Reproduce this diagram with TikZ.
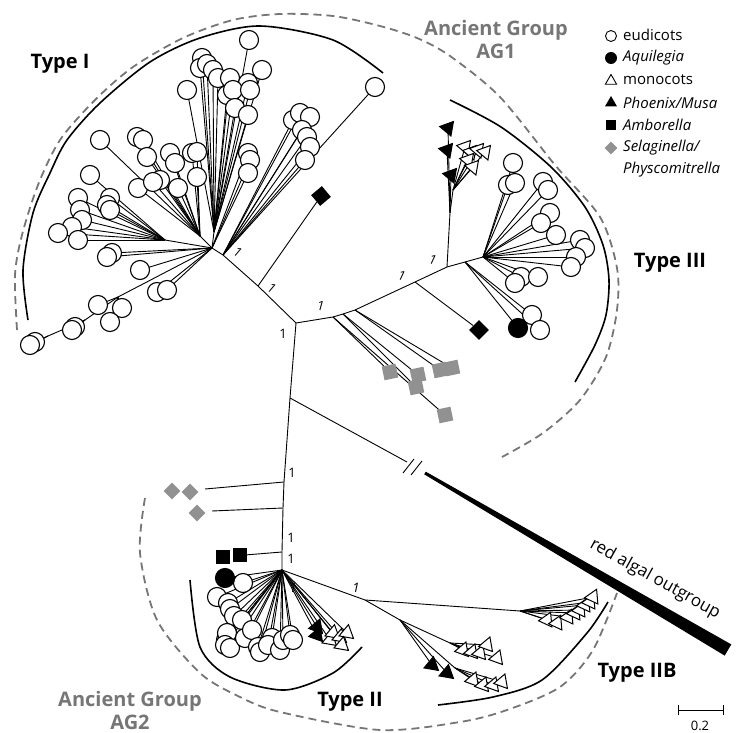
\documentclass[tikz,border=0pt]{standalone}
\usepackage{fontspec}
\setmainfont{Open Sans}
\usetikzlibrary{shapes.geometric}
\definecolor{grp}{RGB}{118,118,118}
\definecolor{selg}{RGB}{145,145,145}
\newcommand\mkedges[3]{\foreach \px/\py [count=\k] in #3 {\coordinate (#2-\k) at (\px,\py); \draw[br] (#1) -- (#2-\k);}}
\newcommand\mkleafs[3]{\foreach \px/\py [count=\k] in #3 {\node[#2] (#1-n\k) at (#1-\k) {};}}
% Type I
\def\LIa{202/58,200/68,207/64,213/70,218/78,249/40,187/90,230/78,262/70,248/83,227/95,233/90,250/90,235/108,248/115}
\def\LIb{100/140,137/137,143/140,147/157,170/153,175/163,192/153,197/152,197/177,160/180,178/188,138/188,153/182}
\def\LIc{90/175,78/198,80/210,82/220,72/227,58/233,78/240,110/198,107/205,110/210}
\def\LHa{248/153,250/160,248/173,112/253,107/257,140/270,157/292,167/290}
\def\LEa{122/308,98/305,110/322}
\def\LEb{75/327,72/330}
\def\LEc{35/342,30/345}
\def\LIf{293/120,300/113,310/117,302/130,307/137,310/147,305/160,375/87}
% Type III
\def\LT{513/163,508/185,515/183,543/182,548/190,550/213,541/223,556/235,580/240,585/248,576/257,571/267,521/277,515/283,538/277}
\def\LTb{532/315,540/330}
\def\LTa{518/328}
\def\LMf{448/128,447/150,451/175}
\def\LMo{465/147,471/152,478/150,485/152,468/160,473/167}
% Type II
\def\LTIIa{225/578}
\def\LTIIe{243/583,217/597,228/603,230/609,234/616,242/620,226/640,227/633,225/645,230/648,245/638,252/630,258/647,260/652,272/638,268/645,280/650,283/640,290/635,293/640}
\def\LMIIf{317/627,317/635}
\def\LMIIo{330/640,333/633,340/637,347/633,342/645}
\def\LIIBa{547/620,557/623,568/617,575/613,580/610,585/605,590/602,593/597}
\def\LIIBb{463/650,472/652,480/653,487/645,497/658}
\def\LIIBc{473/680,483/685,493/685,502/682}
\def\LIIBf{432/665,447/673}
\def\LSq{390/372,445/415}
\def\LSqb{418/375,416/387}
\def\LSqc{440/370,452/368}
\begin{document}
\begin{tikzpicture}[x=1pt,y=-1pt,
 br/.style={line width=0.9},
 eud/.style={circle,draw,fill=white,minimum size=19,inner sep=0,line width=1.1},
 aqu/.style={circle,draw,fill=black,minimum size=19,inner sep=0,line width=1.1},
 mono/.style={regular polygon,regular polygon sides=3,draw,fill=white,minimum size=17,inner sep=0,line width=1},
 phx/.style={regular polygon,regular polygon sides=3,draw,fill=black,minimum size=17,inner sep=0,line width=1},
 amb/.style={rectangle,fill=black,minimum size=14,inner sep=0},
 selsq/.style={rectangle,fill=selg,minimum size=14,inner sep=0,rotate=12},
 sel/.style={diamond,fill=selg,minimum size=17,inner sep=0},
 clade/.style={line width=1.6},
 ag/.style={dash pattern=on 8pt off 5pt, draw=grp, line width=1.8},
 bs/.style={font=\fontsize{13}{15}\selectfont, inner sep=1},
 typ/.style={font=\fontsize{20}{24}\selectfont\bfseries},
 agl/.style={font=\fontsize{20}{23}\selectfont\bfseries, text=grp, align=center},
 leg/.style={font=\fontsize{15}{18}\selectfont, anchor=west, inner sep=0},
]
\useasboundingbox (0,0) rectangle (737,733);
% group arcs
\draw[ag] plot[smooth] coordinates {(17,330) (15,275) (22,235) (38,185) (60,140) (95,100) (133,67) (183,38) (233,20) (280,14) (333,16) (380,26) (417,38) (450,56) (500,97) (555,165) (600,217) (617,268) (617,310) (606,357) (580,400) (543,433) (502,457)};
\draw[ag] plot[smooth] coordinates {(145,498) (140,553) (157,620) (200,673) (240,697) (280,712) (380,730) (460,722) (507,710) (560,687) (593,650) (617,593)};
\draw[clade] plot[smooth] coordinates {(28,320) (23,270) (33,213) (50,173) (67,140) (100,103) (150,62) (200,38) (260,26) (333,40) (383,73)};
\draw[clade] plot[smooth] coordinates {(450,100) (501,127) (551,167) (585,207) (603,245) (609,280) (606,315) (595,345) (575,382)};
\draw[clade] plot[smooth] coordinates {(190,580) (200,647) (230,677) (285,690) (333,673) (362,647)};
\draw[clade] plot[smooth] coordinates {(438,705) (493,697) (542,680) (587,633) (608,602)};
% backbone
\coordinate (A) at (296,323);
\coordinate (N3) at (258,286);
\coordinate (N2) at (223,255);
\coordinate (H1) at (212,248);
\coordinate (N4a) at (333,317);
\coordinate (N4b) at (343,314);
\coordinate (N4c) at (355,310);
\coordinate (N6) at (415,282);
\coordinate (N7) at (447,267);
\coordinate (N7a) at (465,262);
\coordinate (N8) at (483,257);
\coordinate (N9) at (450,213);
\coordinate (N9b) at (453,190);
\coordinate (B1) at (290,398);
\coordinate (S1) at (284,482);
\coordinate (S2) at (283,508);
\coordinate (S3) at (282,552);
\coordinate (H2) at (282,570);
\coordinate (T1) at (365,600);
\coordinate (T2) at (520,611);
\coordinate (T3) at (400,620);
\coordinate (T4) at (450,643);
\coordinate (T5) at (455,668);
\coordinate (Ia) at (214,232);
\coordinate (Ib) at (200,236);
\coordinate (Ic) at (165,240);
\coordinate (Ie1) at (118,297);
\coordinate (Ie2) at (85,320);
\coordinate (Ie3) at (48,336);
\coordinate (Brk1) at (407,462);
\coordinate (L1) at (205,489);
\coordinate (L2) at (212,511);
\coordinate (L3) at (245,555);
\draw[br] (H1) -- (N2) -- (N3) -- (A) -- (N4a) -- (N4b) -- (N4c) -- (N6) -- (N7) -- (N7a) -- (N8);
\draw[br] (N7) -- (N9) -- (N9b);
\draw[br] (A) -- (B1) -- (S1) -- (S2) -- (S3) -- (H2);
\draw[br] (B1) -- (Brk1);
\draw[br] (S1) -- (L1);
\draw[br] (S2) -- (L2);
\draw[br] (S3) -- (L3);
\draw[br] (H2) -- (T1) -- (T2);
\draw[br] (T1) -- (T3) -- (T4);
\draw[br] (T3) -- (T5);
\draw[br] (H1) -- (Ia);
\draw[br] (H1) -- (Ib);
\draw[br] (H1) -- (Ic);
\draw[br] (H1) -- (Ie1) -- (Ie2) -- (Ie3);
% outgroup
\draw[line width=0.9] (403,473) -- (414,459);
\draw[line width=0.9] (411,475) -- (422,461);
\fill (424.2,474.3) -- (425.8,471.7) -- (731.3,644.4) -- (724.7,655.6) -- cycle;
\node[font=\fontsize{17}{20}\selectfont, rotate=-29] (og) at (655,579) {red algal outgroup};
% leaf edges
\mkedges{Ia}{Ia}{\LIa}
\mkedges{Ib}{Ib}{\LIb}
\mkedges{Ic}{Ic}{\LIc}
\mkedges{H1}{Ha}{\LHa}
\mkedges{Ie1}{Ea}{\LEa}
\mkedges{Ie2}{Eb}{\LEb}
\mkedges{Ie3}{Ec}{\LEc}
\mkedges{N2}{If}{\LIf}
\mkedges{N8}{T}{\LT}
\mkedges{N7a}{Tb}{\LTb}
\mkedges{N7a}{Ta}{\LTa}
\mkedges{N9}{Mf}{\LMf}
\mkedges{N9b}{Mo}{\LMo}
\mkedges{H2}{IIa}{\LTIIa}
\mkedges{H2}{IIe}{\LTIIe}
\mkedges{H2}{IIf}{\LMIIf}
\mkedges{H2}{IIo}{\LMIIo}
\mkedges{T2}{Ba}{\LIIBa}
\mkedges{T4}{Bb}{\LIIBb}
\mkedges{T5}{Bc}{\LIIBc}
\mkedges{T3}{Bf}{\LIIBf}
\mkedges{N4a}{Sa}{\LSq}
\mkedges{N4b}{Sb}{\LSqb}
\mkedges{N4c}{Sc}{\LSqc}
\node[amb,rotate=40] (amb1) at (321,196) {};
\draw[br] (N3) -- (amb1);
\node[amb,rotate=45] (amb2) at (479,330) {};
\draw[br] (N6) -- (amb2);
% leaves
\mkleafs{Ia}{eud}{\LIa}
\mkleafs{Ib}{eud}{\LIb}
\mkleafs{Ic}{eud}{\LIc}
\mkleafs{Ha}{eud}{\LHa}
\mkleafs{Ea}{eud}{\LEa}
\mkleafs{Eb}{eud}{\LEb}
\mkleafs{Ec}{eud}{\LEc}
\mkleafs{If}{eud}{\LIf}
\mkleafs{T}{eud}{\LT}
\mkleafs{Tb}{eud}{\LTb}
\mkleafs{Ta}{aqu}{\LTa}
\mkleafs{Mf}{phx,rotate=80}{\LMf}
\mkleafs{Mo}{mono,rotate=-40}{\LMo}
\mkleafs{IIe}{eud}{\LTIIe}
\mkleafs{IIa}{aqu}{\LTIIa}
\mkleafs{IIf}{phx,rotate=100}{\LMIIf}
\mkleafs{IIo}{mono,rotate=110}{\LMIIo}
\mkleafs{Ba}{mono,rotate=95}{\LIIBa}
\mkleafs{Bb}{mono,rotate=100}{\LIIBb}
\mkleafs{Bc}{mono,rotate=100}{\LIIBc}
\mkleafs{Bf}{phx,rotate=110}{\LIIBf}
\mkleafs{Sa}{selsq}{\LSq}
\mkleafs{Sb}{selsq}{\LSqb}
\mkleafs{Sc}{selsq}{\LSqc}
\node[sel] (sd1) at (172,491) {};
\node[sel] (sd2) at (190,492) {};
\node[sel] (sd3) at (197,513) {};
\node[amb] (as1) at (223,557) {};
\node[amb] (as2) at (240,555) {};
% support values
\node[bs] (s1) at (283,334) {1};
\node[bs,rotate=-40] (s2) at (272,288) {1};
\node[bs,rotate=-40] (s3) at (238,252) {1};
\node[bs,rotate=-15] (s4) at (321,306) {1};
\node[bs,rotate=-25] (s5) at (402,276) {1};
\node[bs,rotate=-25] (s6) at (433,260) {1};
\node[bs] (s7) at (292,473) {1};
\node[bs] (s8) at (291,538) {1};
\node[bs] (s9) at (291,559) {1};
\node[bs,font=\fontsize{13}{15}\selectfont\itshape] (s10) at (293,588) {1};
\node[bs,font=\fontsize{13}{15}\selectfont\itshape] (s11) at (356,588) {1};
% clade labels
\node[typ] (tI) at (60,64) {Type I};
\node[typ] (tIII) at (670,263) {Type III};
\node[typ] (tII) at (350,702) {Type II};
\node[typ] (tIIB) at (637,673) {Type IIB};
\node[agl] (ag1) at (496,40) {Ancient Group\\AG1};
\node[agl] (ag2) at (130,710) {Ancient Group\\AG2};
% legend
\node[circle,draw,line width=0.9,minimum size=11,inner sep=0] (k1) at (611,36) {};
\node[circle,fill=black,minimum size=12,inner sep=0] (k2) at (611,58) {};
\node[regular polygon,regular polygon sides=3,draw,line width=0.9,minimum size=13,inner sep=0] (k3) at (611,81) {};
\node[regular polygon,regular polygon sides=3,fill=black,minimum size=14,inner sep=0] (k4) at (611,103) {};
\node[rectangle,fill=black,minimum size=10,inner sep=0] (k5) at (611,125) {};
\node[diamond,fill=selg,minimum size=13,inner sep=0] (k6) at (611,148) {};
\node[leg] at (623,35) {eudicots};
\node[leg] at (623,58) {\itshape Aquilegia};
\node[leg] at (623,80) {monocots};
\node[leg] at (623,103) {\itshape Phoenix/Musa};
\node[leg] at (623,125) {\itshape Amborella};
\node[leg] at (623,148) {\itshape Selaginella/};
\node[leg] at (623,170) {\itshape Physcomitrella};
% scale bar
\coordinate (sb1) at (678,710);
\coordinate (sb2) at (723,710);
\draw[line width=1] (sb1) -- (sb2);
\draw[line width=1] (678,705) -- (678,715);
\draw[line width=1] (723,705) -- (723,715);
\node[font=\fontsize{13}{15}\selectfont] (sbl) at (700,726) {0.2};
\end{tikzpicture}
\end{document}
